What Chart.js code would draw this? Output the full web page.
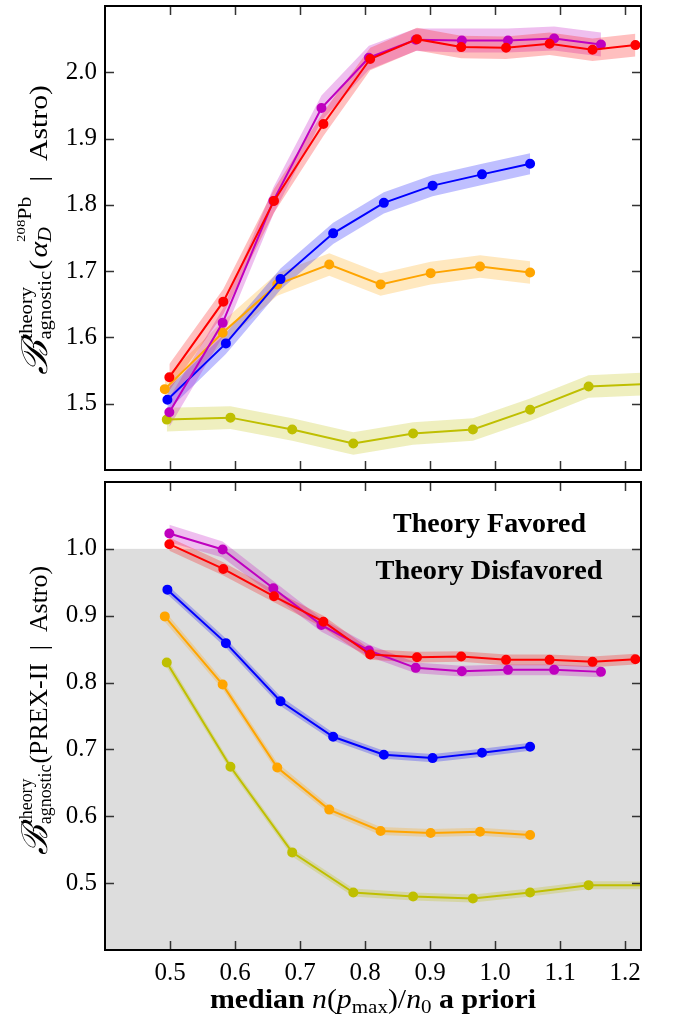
<!DOCTYPE html>
<html>
<head>
<meta charset="utf-8">
<script src="https://cdn.jsdelivr.net/npm/chart.js@4.4.1/dist/chart.umd.min.js"></script>
<style>
  body { margin: 0; background: #fff; }
  #wrap { position: relative; width: 675px; height: 1022px; }
  canvas { position: absolute; left: 0; }
</style>
</head>
<body>
<div id="wrap">
  <canvas id="topChart" width="675" height="476" style="top:0px"></canvas>
  <canvas id="botChart" width="675" height="546" style="top:476px"></canvas>
</div>
<script>
// tick values
var xTicks = [0.5, 0.6, 0.7, 0.8, 0.9, 1.0, 1.1, 1.2];
var yTicksTop = [1.5, 1.6, 1.7, 1.8, 1.9, 2.0];
var yTicksBot = [0.5, 0.6, 0.7, 0.8, 0.9, 1.0];

// x positions (median n(pmax)/n0) for each series
var xRed    = [0.499, 0.582, 0.660, 0.736, 0.808, 0.880, 0.948, 1.017, 1.084, 1.150, 1.216];
var xPurple = [0.499, 0.581, 0.659, 0.733, 0.806, 0.878, 0.949, 1.020, 1.091, 1.163];
var xBlue   = [0.496, 0.586, 0.670, 0.751, 0.829, 0.904, 0.980, 1.054];
var xOrange = [0.492, 0.581, 0.665, 0.745, 0.824, 0.901, 0.977, 1.054];
var xOlive  = [0.495, 0.593, 0.688, 0.782, 0.874, 0.966, 1.054, 1.144, 1.235];

// top panel: alpha_D(208Pb)
var topRed    = [1.540, 1.654, 1.806, 1.922, 2.020, 2.050, 2.038, 2.037, 2.043, 2.034, 2.041];
var topPurple = [1.487, 1.622, 1.806, 1.946, 2.022, 2.049, 2.048, 2.048, 2.051, 2.042];
var topBlue   = [1.506, 1.591, 1.688, 1.757, 1.803, 1.829, 1.846, 1.862];
var topOrange = [1.522, 1.607, 1.680, 1.710, 1.680, 1.697, 1.707, 1.698];
var topOlive  = [1.476, 1.479, 1.461, 1.440, 1.455, 1.461, 1.491, 1.526, 1.530];

var topRedErr    = [0.020, 0.019, 0.018, 0.018, 0.017, 0.017, 0.017, 0.017, 0.017, 0.017, 0.017];
var topPurpleErr = [0.022, 0.021, 0.020, 0.019, 0.018, 0.017, 0.018, 0.018, 0.018, 0.018];
var topBlueErr   = [0.017, 0.016, 0.016, 0.016, 0.016, 0.016, 0.016, 0.016];
var topOrangeErr = [0.017, 0.017, 0.017, 0.017, 0.017, 0.017, 0.017, 0.017];
var topOliveErr  = [0.018, 0.017, 0.017, 0.017, 0.017, 0.017, 0.017, 0.017, 0.017];

// bottom panel: PREX-II
var botRed    = [1.007, 0.970, 0.929, 0.891, 0.842, 0.838, 0.839, 0.834, 0.834, 0.831, 0.835];
var botPurple = [1.023, 0.999, 0.941, 0.886, 0.848, 0.822, 0.817, 0.819, 0.819, 0.816];
var botBlue   = [0.939, 0.859, 0.772, 0.719, 0.692, 0.687, 0.695, 0.704];
var botOrange = [0.899, 0.797, 0.673, 0.610, 0.578, 0.575, 0.577, 0.572];
var botOlive  = [0.830, 0.674, 0.546, 0.486, 0.480, 0.477, 0.486, 0.497, 0.497];

var botRedErr    = [0.010, 0.010, 0.009, 0.009, 0.008, 0.008, 0.008, 0.008, 0.008, 0.008, 0.008];
var botPurpleErr = [0.013, 0.012, 0.011, 0.010, 0.009, 0.008, 0.008, 0.008, 0.008, 0.008];
var botBlueErr   = [0.007, 0.007, 0.007, 0.006, 0.006, 0.006, 0.006, 0.006];
var botOrangeErr = [0.008, 0.007, 0.007, 0.006, 0.006, 0.006, 0.006, 0.006];
var botOliveErr  = [0.007, 0.006, 0.006, 0.006, 0.006, 0.006, 0.006, 0.006, 0.006];

var colors = {
  red:    ['#ff0000', 'rgba(255,0,0,0.25)'],
  purple: ['#bf00bf', 'rgba(191,0,191,0.25)'],
  blue:   ['#0000ff', 'rgba(0,0,255,0.25)'],
  orange: ['#ffa500', 'rgba(255,165,0,0.25)'],
  olive:  ['#bfbf00', 'rgba(191,191,0,0.25)']
};

var SERIF = '"Liberation Serif", "DejaVu Serif", serif';

// line + shaded band (lower, upper filled to lower, then the line)
function seriesSets(xs, ys, errs, col, lineOrder) {
  var lo = [], hi = [], pts = [];
  for (var i = 0; i < xs.length; i++) {
    lo.push({x: xs[i], y: ys[i] - errs[i]});
    hi.push({x: xs[i], y: ys[i] + errs[i]});
    pts.push({x: xs[i], y: ys[i]});
  }
  return [
    {data: lo, borderWidth: 0, pointRadius: 0, fill: false, order: 20 + lineOrder, clip: 0},
    {data: hi, borderWidth: 0, pointRadius: 0, fill: '-1', backgroundColor: col[1], order: 20 + lineOrder, clip: 0},
    {data: pts, borderColor: col[0], backgroundColor: col[0], pointBorderColor: col[0],
     borderWidth: 2, pointRadius: 4, pointHoverRadius: 4, fill: false, order: lineOrder, clip: 0}
  ];
}

// rich text helpers (for the math-ish axis labels)
function runsWidth(ctx, runs) {
  var w = 0;
  runs.forEach(function (r) { ctx.font = r.f; w += ctx.measureText(r.t).width + (r.gap || 0); });
  return w;
}
function partWidth(ctx, p) {
  if (p.stack) return Math.max.apply(null, p.stack.map(function (rs) { return runsWidth(ctx, rs); })) + (p.gap || 0);
  return runsWidth(ctx, [p]);
}
function drawRuns(ctx, runs, x, y) {
  runs.forEach(function (r) {
    ctx.font = r.f;
    ctx.fillText(r.t, x, y + (r.dy || 0));
    x += ctx.measureText(r.t).width + (r.gap || 0);
  });
}
function drawRich(ctx, parts, cx, by, target) {
  var w = 0;
  parts.forEach(function (p) { w += partWidth(ctx, p); });
  var k = target ? target / w : 1;
  ctx.save();
  ctx.translate(cx, by);
  ctx.scale(k, 1);
  ctx.fillStyle = '#000';
  ctx.textAlign = 'left';
  ctx.textBaseline = 'alphabetic';
  var x = -w / 2;
  parts.forEach(function (p) {
    if (p.stack) p.stack.forEach(function (rs) { drawRuns(ctx, rs, x, 0); });
    else drawRuns(ctx, [p], x, 0);
    x += partWidth(ctx, p);
  });
  ctx.restore();
}

var topTitle = [
  {t: 'ℬ', f: 'italic 36px ' + SERIF, gap: 1},
  {stack: [[{t: 'theory', f: '18px ' + SERIF, dy: -15}], [{t: 'agnostic', f: '18px ' + SERIF, dy: 4}]], gap: 1},
  {t: '(', f: '26px ' + SERIF, gap: 2},
  {t: 'α', f: 'italic 26px ' + SERIF},
  {stack: [[{t: '208', f: '13px ' + SERIF, dy: -22}, {t: 'Pb', f: '19px ' + SERIF, dy: -16}],
           [{t: 'D', f: 'italic 18px ' + SERIF, dy: 4}]]},
  {t: '  |  Astro)', f: '26px ' + SERIF}
];
var botTitle = [
  {t: 'ℬ', f: 'italic 36px ' + SERIF, gap: 1},
  {stack: [[{t: 'theory', f: '18px ' + SERIF, dy: -15}], [{t: 'agnostic', f: '18px ' + SERIF, dy: 4}]], gap: 1},
  {t: '(PREX-II  |  Astro)', f: '26px ' + SERIF}
];
var xTitle = [
  {t: 'median ', f: 'bold 27px ' + SERIF},
  {t: 'n', f: 'italic 27px ' + SERIF},
  {t: '(', f: '27px ' + SERIF},
  {t: 'p', f: 'italic 27px ' + SERIF},
  {t: 'max', f: '19px ' + SERIF, dy: 5},
  {t: ')/', f: '27px ' + SERIF},
  {t: 'n', f: 'italic 27px ' + SERIF},
  {t: '0', f: '19px ' + SERIF, dy: 5},
  {t: ' a priori', f: 'bold 27px ' + SERIF}
];

// frame, inward ticks, shading and labels
var framePlugin = {
  id: 'frame',
  beforeDatasetsDraw: function (chart, args, opts) {
    if (opts.shadeBelow == null) return;
    var ca = chart.chartArea, ctx = chart.ctx;
    var yp = chart.scales.y.getPixelForValue(opts.shadeBelow);
    ctx.save();
    ctx.fillStyle = '#dddddd';
    ctx.fillRect(ca.left, yp, ca.right - ca.left, ca.bottom - yp);
    ctx.restore();
  },
  afterDraw: function (chart, args, opts) {
    var ca = chart.chartArea, ctx = chart.ctx;
    var xs = chart.scales.x, ys = chart.scales.y;
    ctx.save();
    ctx.strokeStyle = '#333';
    ctx.lineWidth = 1.5;
    ctx.beginPath();
    xTicks.forEach(function (v) {
      var p = Math.round(xs.getPixelForValue(v)) + 0.5;
      ctx.moveTo(p, ca.top); ctx.lineTo(p, ca.top + 9);
      ctx.moveTo(p, ca.bottom); ctx.lineTo(p, ca.bottom - 9);
    });
    opts.yTicks.forEach(function (v) {
      var p = Math.round(ys.getPixelForValue(v)) + 0.5;
      ctx.moveTo(ca.left, p); ctx.lineTo(ca.left + 9, p);
      ctx.moveTo(ca.right, p); ctx.lineTo(ca.right - 9, p);
    });
    ctx.stroke();
    ctx.strokeStyle = '#000';
    ctx.lineWidth = 2;
    ctx.strokeRect(ca.left, ca.top, ca.right - ca.left, ca.bottom - ca.top);

    // rotated y title
    ctx.save();
    ctx.translate(47, opts.titleY);
    ctx.rotate(-Math.PI / 2);
    drawRich(ctx, opts.title, 0, 0, opts.titleLen);
    ctx.restore();

    if (opts.xTitle) drawRich(ctx, opts.xTitle, 373, 532, 326);
    (opts.notes || []).forEach(function (n) {
      drawRich(ctx, [{t: n.t, f: 'bold 27px ' + SERIF}], n.x, n.y, n.w);
    });
    ctx.restore();
  }
};

function makeChart(id, sets, yMin, yMax, yTicks, pad, showX, frameOpts) {
  return new Chart(document.getElementById(id), {
    type: 'line',
    data: {datasets: sets},
    plugins: [framePlugin],
    options: {
      responsive: false,
      animation: false,
      events: [],
      layout: {padding: pad},
      plugins: {
        legend: {display: false},
        tooltip: {enabled: false},
        frame: frameOpts
      },
      scales: {
        x: {
          type: 'linear', min: 0.4, max: 1.2246,
          display: showX,
          grid: {display: false, drawTicks: false},
          border: {display: false},
          afterBuildTicks: function (s) { s.ticks = xTicks.map(function (v) { return {value: v}; }); },
          afterFit: function (s) {
            s.height = showX ? 72 : 0;
            s.paddingLeft = 0; s.paddingRight = 0;
          },
          ticks: {
            padding: 8, color: '#000', font: {family: SERIF, size: 25},
            maxRotation: 0, autoSkip: false,
            callback: function (v) { return v.toFixed(1); }
          }
        },
        y: {
          min: yMin, max: yMax,
          grid: {display: false, drawTicks: false},
          border: {display: false},
          afterBuildTicks: function (s) { s.ticks = yTicks.map(function (v) { return {value: v}; }); },
          afterFit: function (s) {
            s.width = 105;
            s.paddingTop = 0; s.paddingBottom = 0;
          },
          ticks: {
            padding: 8, color: '#000', font: {family: SERIF, size: 25},
            callback: function (v) { return v.toFixed(1); }
          }
        }
      }
    }
  });
}

var topSets = [].concat(
  seriesSets(xRed, topRed, topRedErr, colors.red, 1),
  seriesSets(xPurple, topPurple, topPurpleErr, colors.purple, 2),
  seriesSets(xBlue, topBlue, topBlueErr, colors.blue, 3),
  seriesSets(xOrange, topOrange, topOrangeErr, colors.orange, 4),
  seriesSets(xOlive, topOlive, topOliveErr, colors.olive, 5)
);
var botSets = [].concat(
  seriesSets(xRed, botRed, botRedErr, colors.red, 1),
  seriesSets(xPurple, botPurple, botPurpleErr, colors.purple, 2),
  seriesSets(xBlue, botBlue, botBlueErr, colors.blue, 3),
  seriesSets(xOrange, botOrange, botOrangeErr, colors.orange, 4),
  seriesSets(xOlive, botOlive, botOliveErr, colors.olive, 5)
);

makeChart('topChart', topSets, 1.4, 2.1, yTicksTop,
  {top: 3, right: 34, bottom: 4, left: 0}, false,
  {yTicks: yTicksTop, title: topTitle, titleY: 230, titleLen: 290});

makeChart('botChart', botSets, 0.4, 1.1, yTicksBot,
  {top: 6, right: 34, bottom: 0, left: 0}, true,
  {yTicks: yTicksBot, shadeBelow: 1.0, title: botTitle, titleY: 234.5, titleLen: 289,
   xTitle: xTitle,
   notes: [{t: 'Theory Favored', x: 489.5, y: 56, w: 193},
           {t: 'Theory Disfavored', x: 489, y: 103, w: 227}]});
</script>
</body>
</html>
